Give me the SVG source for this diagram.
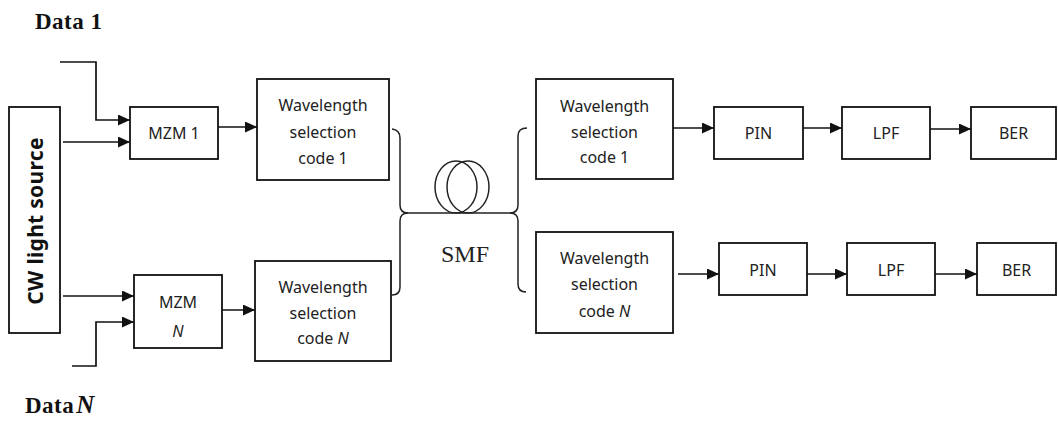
<svg xmlns="http://www.w3.org/2000/svg" width="1058" height="431" viewBox="0 0 1058 431">
<style>
.box{fill:#fff;stroke:#111;stroke-width:1.8}
.lbl{font-family:"Noto Sans","Liberation Sans",sans-serif;font-size:16px;fill:#222;text-anchor:middle}
.data{font-family:"Liberation Serif","Times New Roman",serif;font-size:23px;font-weight:bold;fill:#111}
.con{fill:none;stroke:#111;stroke-width:1.7}
.fib{fill:none;stroke:#222;stroke-width:1.5}
</style>
<defs>
<marker id="ah" viewBox="0 0 12 11" refX="12" refY="5.5" markerWidth="12" markerHeight="11" markerUnits="userSpaceOnUse" orient="auto">
<path d="M0,0 L12,5.5 L0,11 z" fill="#111"/>
</marker>
</defs>
<rect width="1058" height="431" fill="#fff"/>

<g id="data1"><text class="data" x="35" y="29" letter-spacing="0.5">Data 1</text></g>
<g id="dataN"><text class="data" x="25" y="413" letter-spacing="0.5">Data<tspan font-style="italic" font-size="25" dx="2">N</tspan></text></g>

<g id="cw">
<rect class="box" x="9" y="107" width="51" height="226"/>
<text transform="translate(43,221) rotate(-90)" font-family="'Noto Sans','Liberation Sans',sans-serif" font-size="21" font-weight="bold" fill="#111" text-anchor="middle" letter-spacing="0.3">CW light source</text>
</g>

<g id="mzm1">
<rect class="box" x="130" y="107" width="88" height="52"/>
<text class="lbl" x="174" y="139">MZM 1</text>
</g>
<g id="mzmN">
<rect class="box" x="134" y="275" width="88" height="73"/>
<text class="lbl" x="178" y="308">MZM</text>
<text class="lbl" x="178" y="337" font-style="italic">N</text>
</g>

<g id="wsc1tx">
<rect class="box" x="257" y="79" width="132" height="101"/>
<text class="lbl" x="323" y="111">Wavelength</text>
<text class="lbl" x="323" y="138">selection</text>
<text class="lbl" x="323" y="164">code 1</text>
</g>
<g id="wscNtx">
<rect class="box" x="255" y="261" width="136" height="100"/>
<text class="lbl" x="323" y="293">Wavelength</text>
<text class="lbl" x="323" y="319">selection</text>
<text class="lbl" x="323" y="344">code <tspan font-style="italic">N</tspan></text>
</g>

<g id="smf">
<ellipse class="fib" cx="456" cy="187" rx="21" ry="26" fill="#fff"/>
<ellipse class="fib" cx="468" cy="187" rx="21" ry="26" fill="#fff"/>
<text x="465" y="262" font-family="'Liberation Serif','Times New Roman',serif" font-size="24" fill="#222" text-anchor="middle">SMF</text>
</g>

<g id="wsc1rx">
<rect class="box" x="536" y="79" width="137" height="100"/>
<text class="lbl" x="604.5" y="112">Wavelength</text>
<text class="lbl" x="604.5" y="138">selection</text>
<text class="lbl" x="604.5" y="163">code 1</text>
</g>
<g id="wscNrx">
<rect class="box" x="536" y="232" width="137" height="101"/>
<text class="lbl" x="604.5" y="264">Wavelength</text>
<text class="lbl" x="604.5" y="290">selection</text>
<text class="lbl" x="604.5" y="317">code <tspan font-style="italic">N</tspan></text>
</g>

<g id="pin1"><rect class="box" x="714" y="107" width="89" height="52"/><text class="lbl" x="758.5" y="139">PIN</text></g>
<g id="lpf1"><rect class="box" x="842" y="107" width="88" height="52"/><text class="lbl" x="886" y="139">LPF</text></g>
<g id="ber1"><rect class="box" x="971" y="107" width="85" height="52"/><text class="lbl" x="1013.5" y="139">BER</text></g>
<g id="pinN"><rect class="box" x="719" y="243" width="88" height="52"/><text class="lbl" x="763" y="276">PIN</text></g>
<g id="lpfN"><rect class="box" x="847" y="243" width="88" height="52"/><text class="lbl" x="891" y="276">LPF</text></g>
<g id="berN"><rect class="box" x="977" y="243" width="79" height="52"/><text class="lbl" x="1016.5" y="276">BER</text></g>

<g id="connectors">
<path class="con" d="M60,62 H96 V120 H130" marker-end="url(#ah)"/>
<path class="con" d="M63,142 H130" marker-end="url(#ah)"/>
<path class="con" d="M218,127 H257" marker-end="url(#ah)"/>
<path class="con" d="M63,296 H134" marker-end="url(#ah)"/>
<path class="con" d="M72,366 H96 V322 H134" marker-end="url(#ah)"/>
<path class="con" d="M222,310 H255" marker-end="url(#ah)"/>
<path class="con" d="M673,128 H714" marker-end="url(#ah)"/>
<path class="con" d="M803,128 H842" marker-end="url(#ah)"/>
<path class="con" d="M930,129 H971" marker-end="url(#ah)"/>
<path class="con" d="M678,274 H719" marker-end="url(#ah)"/>
<path class="con" d="M807,274 H847" marker-end="url(#ah)"/>
<path class="con" d="M935,274 H977" marker-end="url(#ah)"/>
<path class="fib" d="M392,129 Q400,130 400,138 V205 Q400,213 408,213 H510 Q518,213 518,205 V136 Q518,128 527,128"/>
<path class="fib" d="M408,213 Q400,213 400,221 V287 Q400,295 392,295"/>
<path class="fib" d="M510,213 Q518,213 518,221 V284 Q518,292 526,292"/>
</g>
</svg>
